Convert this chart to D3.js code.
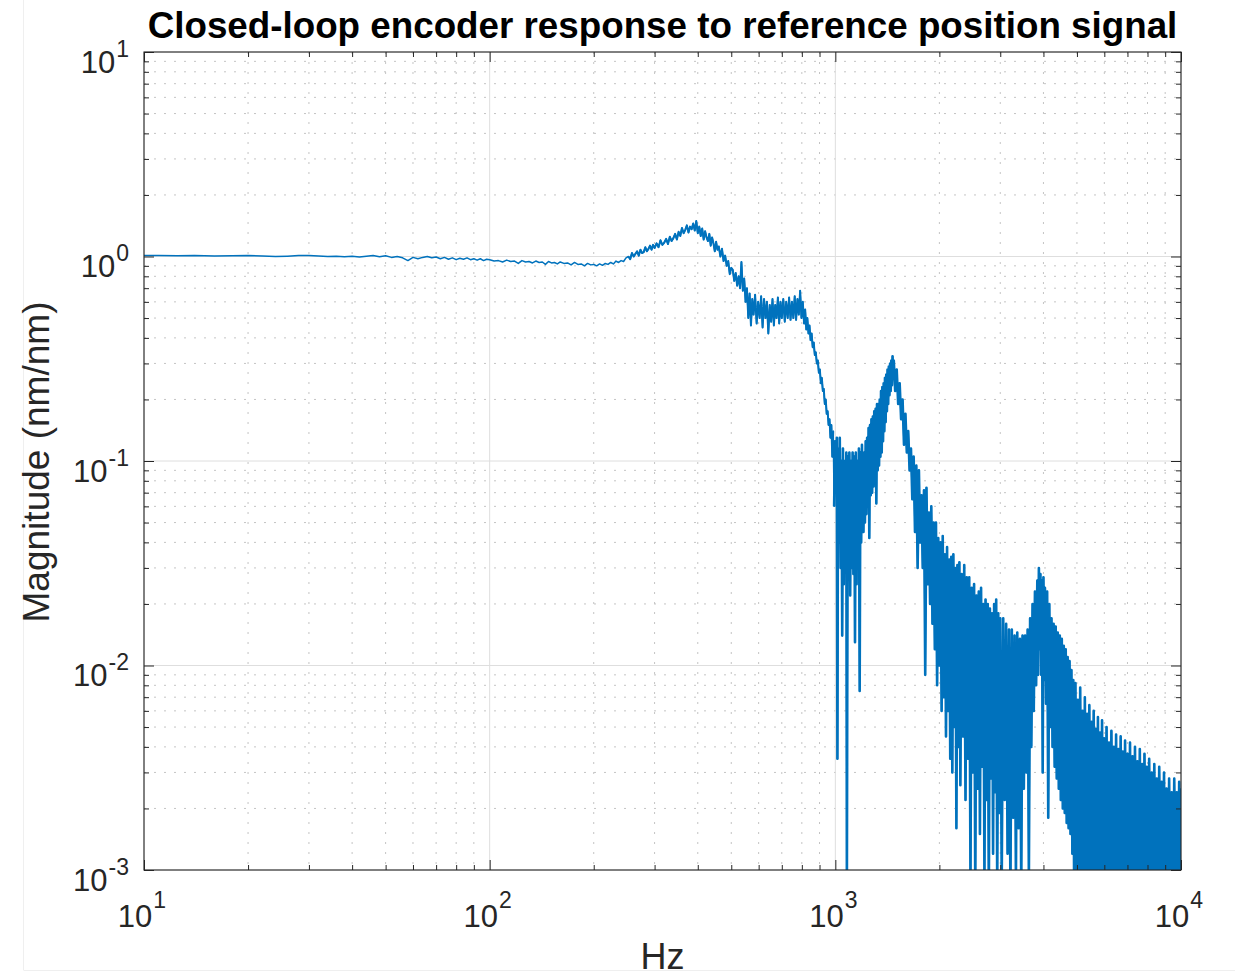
<!DOCTYPE html>
<html>
<head>
<meta charset="utf-8">
<script src="https://cdn.jsdelivr.net/npm/d3@7"></script>
<style>
  html, body { margin: 0; padding: 0; background: #fff; }
  svg { display: block; }
  text { font-family: "Liberation Sans", Arial, Helvetica, sans-serif; }
</style>
</head>
<body>
<svg id="chart"></svg>
<script>
// Closed-loop encoder response: [Hz, magnitude nm/nm]
const flatBand = [
  [10,1.01],[11,1.012],[12.5,1.008],[14,1.01],[16,1.006],[18,1.008],[20,1.01],[22,1.005],[24,1.0],
  [26,1.004],[28,1.01],[30,1.012],[32,1.006],[34,1.0],[36,1.004],[38,0.998],[40,1.003],[42,0.994],
  [44,1.004],[46,1.012],[48,0.998],[50,1.008],[52,0.99],[54,1.0],[56,0.985],[58,0.955],[60,0.99],
  [62,0.975],[64,0.99],[66,1.0],[68,0.985],[70,0.995],[72,0.975],[74,0.99],[76,0.97],[78,0.985],
  [80,0.965],[82,0.98],[84,0.97],[86,0.985],[88,0.965],[90,0.975],[92,0.96],[94,0.975],[96,0.955],[98,0.97]
];
const lowRipple = [
  [100,0.965],[103,0.95],[106,0.955],[109,0.94],[112,0.96],[115,0.945],[118,0.95],[121,0.925],[124,0.955],
  [127,0.94],[130,0.945],[133,0.93],[136,0.95],[139,0.935],[142,0.94],[145,0.915],[148,0.945],[151,0.93],
  [154,0.935],[157,0.92],[160,0.94],[164,0.925],[168,0.93],[172,0.91],[176,0.935],[180,0.915],[184,0.92],
  [188,0.9],[192,0.925],[196,0.91],[200,0.915],[204,0.9],[208,0.92],[212,0.905],[216,0.925],[220,0.915],
  [224,0.935],[228,0.92],[232,0.95],[236,0.935],[240,0.955],[244,0.945],[248,0.985]
];
const firstResonance = [
  [252,1.0],[255,0.97],[258,1.04],[261,1.0],[264,1.03],[267,1.06],[270,1.01],[273,1.08],[276,1.04],
  [279,1.05],[282,1.11],[285,1.06],[288,1.09],[291,1.13],[294,1.08],[297,1.14],[300,1.1],[304,1.16],
  [308,1.11],[312,1.2],[316,1.14],[320,1.17],[324,1.22],[328,1.15],[332,1.25],[336,1.19],[340,1.23],
  [344,1.29],[348,1.21],[352,1.32],[356,1.26],[360,1.38],[364,1.3],[368,1.35],[372,1.42],[376,1.31],
  [380,1.4],[384,1.36],[388,1.45],[392,1.34],[396,1.49],[400,1.3],[404,1.4],[408,1.26],[412,1.37],
  [416,1.21],[420,1.33],[424,1.24],[428,1.19],[432,1.29],[436,1.13],[440,1.24],[444,1.16],[448,1.06],
  [452,1.18],[456,1.08],[460,1.12],[465,1.0],[470,1.09],[475,0.95],[480,1.01],[485,0.9],[490,0.95],
  [495,0.82],[500,0.88]
];
const midPlateau = [
  [505,0.86],[510,0.76],[515,0.83],[520,0.72],[525,0.8],[530,0.7],[535,0.94],[540,0.68],[545,0.78],
  [550,0.6],[555,0.7],[560,0.5],[565,0.66],[570,0.46],[575,0.62],[580,0.52],[586,0.65],[592,0.47],
  [598,0.6],[604,0.5],[610,0.64],[616,0.45],[622,0.62],[628,0.5],[634,0.6],[640,0.42],[646,0.58],
  [652,0.48],[658,0.62],[664,0.46],[670,0.58],[676,0.5],[682,0.63],[688,0.47],[694,0.6],[700,0.5],
  [707,0.62],[714,0.48],[721,0.6],[728,0.5],[735,0.63],[742,0.49],[749,0.6],[756,0.5],[763,0.64],
  [770,0.49],[777,0.62],[784,0.52],[791,0.68],[798,0.5],[805,0.6],[812,0.47],[818,0.55],[824,0.44],
  [830,0.5],[836,0.42],[842,0.46],[848,0.39],[854,0.42],[860,0.36],[866,0.38],[872,0.33],[878,0.34],
  [884,0.3],[890,0.31],[896,0.27],[902,0.28],[908,0.24],[914,0.255],[920,0.22],[926,0.225],[932,0.19],
  [938,0.2],[944,0.17],[950,0.175],[956,0.15],[962,0.16],[968,0.13],[974,0.15],[980,0.105],[986,0.14]
];
const notchBand = [
  [992,0.06],[998,0.125],[1004,0.08],[1010,0.13],[1014,0.0035],[1018,0.115],[1024,0.04],[1030,0.13],
  [1036,0.03],[1042,0.1],[1047,0.014],[1052,0.115],[1058,0.025],[1064,0.1],[1070,0.035],[1076,0.11],
  [1080,0.0008],[1086,0.105],[1092,0.03],[1098,0.11],[1104,0.022],[1110,0.1],[1116,0.03],[1122,0.11],
  [1128,0.028],[1134,0.105],[1140,0.013],[1146,0.11],[1152,0.025],[1158,0.1],[1164,0.03],[1170,0.115],
  [1176,0.0075],[1182,0.11],[1188,0.04],[1194,0.12],[1200,0.045]
];
const secondResonance = [
  [1206,0.045],[1212,0.11],[1218,0.05],[1224,0.125],[1230,0.055],[1236,0.13],[1242,0.06],[1248,0.145],
  [1254,0.042],[1260,0.15],[1266,0.068],[1272,0.16],[1278,0.07],[1284,0.165],[1290,0.075],[1296,0.175],
  [1302,0.08],[1308,0.18],[1314,0.062],[1320,0.19],[1326,0.09],[1332,0.19],[1338,0.095],[1344,0.2],
  [1350,0.105],[1356,0.22],[1362,0.11],[1368,0.23],[1374,0.125],[1380,0.24],[1386,0.14],[1392,0.255],
  [1398,0.155],[1404,0.265],[1410,0.175],[1416,0.28],[1422,0.19],[1428,0.29],[1434,0.21],[1440,0.3],
  [1446,0.22],[1452,0.31],[1458,0.235],[1464,0.325],[1470,0.26]
];
const highDecay = [
  [1476,0.31],[1490,0.22],[1505,0.28],[1520,0.19],[1535,0.24],[1550,0.16],[1565,0.2],[1580,0.12],
  [1595,0.17],[1610,0.11],[1625,0.14],[1640,0.09],[1655,0.115],[1670,0.065],[1685,0.105],[1700,0.045],
  [1715,0.095],[1730,0.03],[1745,0.09],[1760,0.04],[1775,0.068],[1790,0.03],[1805,0.072],[1820,0.009],
  [1835,0.074],[1850,0.025],[1865,0.056],[1880,0.02],[1895,0.06],[1910,0.016],[1925,0.05],[1940,0.012],
  [1955,0.05],[1970,0.008],[1985,0.042],[2000,0.01],[2015,0.04],[2030,0.006],[2045,0.043],[2060,0.007],
  [2075,0.035],[2090,0.0045],[2105,0.038],[2120,0.006],[2135,0.033],[2150,0.0035],[2165,0.034],[2180,0.003],
  [2195,0.035],[2210,0.005],[2225,0.03],[2240,0.0016],[2255,0.031],[2270,0.004],[2285,0.032],[2300,0.0026],
  [2320,0.028],[2340,0.0045],[2360,0.031],[2380,0.0022],[2400,0.027],[2420,0.0035],[2440,0.027],[2460,0.0009],
  [2480,0.024],[2500,0.003],[2520,0.025],[2540,0.0008],[2560,0.022],[2580,0.0025],[2600,0.023],[2620,0.0015],
  [2640,0.024],[2660,0.0032],[2680,0.02],[2700,0.0009],[2720,0.021],[2740,0.0022],[2760,0.02],[2780,0.0007],
  [2800,0.019],[2820,0.0028],[2840,0.018],[2860,0.0012],[2880,0.02],[2900,0.0024],[2920,0.021],[2940,0.0008],
  [2960,0.018],[2980,0.0019],[3000,0.017],[3030,0.0009],[3060,0.017],[3090,0.0022],[3120,0.016],[3150,0.0012],
  [3180,0.015],[3210,0.0008],[3240,0.015],[3270,0.0018],[3300,0.014],[3330,0.0009],[3360,0.0145],[3390,0.0016],
  [3420,0.0135],[3450,0.0008],[3480,0.014],[3510,0.0025],[3540,0.014],[3570,0.003],[3600,0.015],[3630,0.0009],
  [3660,0.017],[3690,0.004],[3720,0.02],[3750,0.006],[3780,0.023],[3810,0.008],[3840,0.026],[3860,0.009],
  [3880,0.03],[3900,0.012],[3920,0.028],[3940,0.009],[3960,0.026],[3980,0.003],[4000,0.027],[4020,0.0085],
  [4040,0.024],[4070,0.0065],[4100,0.023],[4130,0.0018],[4160,0.02],[4190,0.005],[4220,0.017],[4250,0.004],
  [4280,0.016],[4310,0.0032],[4340,0.0155],[4370,0.0028],[4400,0.0145],[4430,0.0025],[4460,0.014],[4490,0.0022],
  [4520,0.0135],[4550,0.002],[4580,0.0125],[4610,0.0019],[4640,0.012],[4670,0.0017],[4700,0.011],[4730,0.0016],
  [4760,0.0105],[4790,0.0015],[4820,0.0095],[4850,0.0012],[4880,0.0085]
];
const tailNoise = [
  [4910,0.0006],[4950,0.0082],[4990,0.0008],[5030,0.0068],[5070,0.0005],[5110,0.0078],[5150,0.0007],[5190,0.006],
  [5230,0.0006],[5270,0.007],[5310,0.0009],[5350,0.0058],[5390,0.0005],[5430,0.0064],[5470,0.0007],[5510,0.0053],
  [5550,0.0006],[5590,0.006],[5630,0.0008],[5670,0.0049],[5710,0.0005],[5750,0.0056],[5790,0.0007],[5830,0.0047],
  [5870,0.0006],[5910,0.0054],[5950,0.0009],[5990,0.0044],[6040,0.0005],[6090,0.005],[6140,0.0007],[6190,0.0042],
  [6240,0.0006],[6290,0.0048],[6340,0.0008],[6390,0.004],[6440,0.0005],[6490,0.0046],[6540,0.0007],[6590,0.0039],
  [6640,0.0006],[6690,0.0045],[6740,0.0009],[6790,0.0038],[6840,0.0005],[6890,0.0043],[6940,0.0007],[7000,0.0037],
  [7060,0.0006],[7120,0.0042],[7180,0.0008],[7240,0.0036],[7300,0.0005],[7360,0.004],[7420,0.0007],[7480,0.0034],
  [7540,0.0006],[7600,0.0039],[7660,0.0009],[7720,0.0033],[7780,0.0005],[7840,0.0037],[7900,0.0007],[7960,0.0032],
  [8020,0.0006],[8090,0.0035],[8160,0.0008],[8230,0.003],[8300,0.0005],[8370,0.0033],[8440,0.0007],[8510,0.0028],
  [8580,0.0006],[8650,0.0032],[8720,0.0009],[8790,0.0027],[8860,0.0005],[8930,0.003],[9000,0.0007],[9080,0.0025],
  [9160,0.0006],[9240,0.0028],[9320,0.0008],[9400,0.0024],[9480,0.0005],[9560,0.0028],[9640,0.0007],[9720,0.0024],
  [9800,0.0006],[9880,0.0027],[9960,0.0008],[10000,0.0025]
];

const xDomain = [10, 10000];
const yDomain = [0.001, 10];
const xMajorTicks = [10, 100, 1000, 10000];
const yMajorTicks = [0.001, 0.01, 0.1, 1, 10];
const xTickExponents = ["1", "2", "3", "4"];
const yTickExponents = ["-3", "-2", "-1", "0", "1"];

const titleText = "Closed-loop encoder response to reference position signal";
const xLabelText = "Hz";
const yLabelText = "Magnitude (nm/nm)";

const trace = [].concat(flatBand, lowRipple, firstResonance, midPlateau,
  notchBand, secondResonance, highDecay, tailNoise);
// đoạn nhiễu vừa và nhiễu dày: vẽ lại nét đậm hơn để thành mảng kín như ảnh gốc
const noisyTrace = [].concat(firstResonance, midPlateau);
const denseTrace = [].concat(notchBand, secondResonance, highDecay, tailNoise);

const width = 1235, height = 976;
const plotLeft = 144, plotRight = 1181, plotTop = 52, plotBottom = 870;
const axisColor = "#262626";
const lineColor = "#0072BD";

const svg = d3.select("#chart").attr("width", width).attr("height", height);

// nền trắng + viền mờ của ảnh chụp
svg.append("rect").attr("width", width).attr("height", height).attr("fill", "#fff");
svg.append("line").attr("x1", 23.5).attr("x2", 23.5).attr("y1", 0).attr("y2", 970)
  .attr("stroke", "#efefef");
svg.append("line").attr("x1", 23.5).attr("x2", width).attr("y1", 970.5).attr("y2", 970.5)
  .attr("stroke", "#efefef");

const x = d3.scaleLog().domain(xDomain).range([plotLeft, plotRight]);
const y = d3.scaleLog().domain(yDomain).range([plotBottom, plotTop]);

const isMajor = v => Math.abs(Math.log10(v) - Math.round(Math.log10(v))) < 1e-9;
const xMinor = x.ticks().filter(v => !isMajor(v));
const yMinor = y.ticks().filter(v => !isMajor(v));

// lưới phụ (chấm)
const grid = svg.append("g");
grid.selectAll(".xm").data(xMinor).enter().append("line")
  .attr("x1", d => x(d)).attr("x2", d => x(d)).attr("y1", plotTop).attr("y2", plotBottom)
  .attr("stroke", "#c4c4c4").attr("stroke-width", 1).attr("stroke-dasharray", "2,8");
grid.selectAll(".ym").data(yMinor).enter().append("line")
  .attr("x1", plotLeft).attr("x2", plotRight).attr("y1", d => y(d)).attr("y2", d => y(d))
  .attr("stroke", "#c4c4c4").attr("stroke-width", 1).attr("stroke-dasharray", "2,8");
// lưới chính
grid.selectAll(".xM").data(xMajorTicks).enter().append("line")
  .attr("x1", d => x(d)).attr("x2", d => x(d)).attr("y1", plotTop).attr("y2", plotBottom)
  .attr("stroke", "#dedede").attr("stroke-width", 1);
grid.selectAll(".yM").data(yMajorTicks).enter().append("line")
  .attr("x1", plotLeft).attr("x2", plotRight).attr("y1", d => y(d)).attr("y2", d => y(d))
  .attr("stroke", "#dedede").attr("stroke-width", 1);

// đường dữ liệu
svg.append("clipPath").attr("id", "plotClip").append("rect")
  .attr("x", plotLeft).attr("y", plotTop)
  .attr("width", plotRight - plotLeft).attr("height", plotBottom - plotTop);

const line = d3.line().x(d => x(d[0])).y(d => y(d[1]));
const dataGroup = svg.append("g").attr("clip-path", "url(#plotClip)");
[[trace, 1.5], [noisyTrace, 2.0], [denseTrace, 2.6]].forEach(([pts, w]) => {
  dataGroup.append("path")
    .datum(pts)
    .attr("d", line)
    .attr("fill", "none")
    .attr("stroke", lineColor)
    .attr("stroke-width", w)
    .attr("stroke-linejoin", "round");
});

// trục: ticks hướng vào trong trên cả 4 cạnh
function addAxis(gen, tx, ty) {
  const g = svg.append("g").attr("transform", `translate(${tx},${ty})`).call(gen);
  g.select(".domain").remove();
  g.selectAll("line").attr("stroke", axisColor).attr("stroke-width", 1);
  return g;
}
addAxis(d3.axisBottom(x).tickValues(xMajorTicks).tickSize(-10).tickFormat(""), 0, plotBottom);
addAxis(d3.axisBottom(x).tickValues(xMinor).tickSize(-5).tickFormat(""), 0, plotBottom);
addAxis(d3.axisTop(x).tickValues(xMajorTicks).tickSize(-10).tickFormat(""), 0, plotTop);
addAxis(d3.axisTop(x).tickValues(xMinor).tickSize(-5).tickFormat(""), 0, plotTop);
addAxis(d3.axisLeft(y).tickValues(yMajorTicks).tickSize(-10).tickFormat(""), plotLeft, 0);
addAxis(d3.axisLeft(y).tickValues(yMinor).tickSize(-5).tickFormat(""), plotLeft, 0);
addAxis(d3.axisRight(y).tickValues(yMajorTicks).tickSize(-10).tickFormat(""), plotRight, 0);
addAxis(d3.axisRight(y).tickValues(yMinor).tickSize(-5).tickFormat(""), plotRight, 0);

svg.append("rect")
  .attr("x", plotLeft).attr("y", plotTop)
  .attr("width", plotRight - plotLeft).attr("height", plotBottom - plotTop)
  .attr("fill", "none").attr("stroke", axisColor).attr("stroke-width", 1.1);

// nhãn tick dạng 10^n
const xl = svg.append("g").attr("fill", axisColor);
xMajorTicks.forEach((v, i) => {
  const t = xl.append("text").attr("x", x(v) - 2).attr("y", plotBottom + 57)
    .attr("text-anchor", "middle").attr("font-size", 31);
  t.append("tspan").text("10");
  t.append("tspan").attr("font-size", 23).attr("dx", 1).attr("dy", -19).text(xTickExponents[i]);
});
const yl = svg.append("g").attr("fill", axisColor);
yMajorTicks.forEach((v, i) => {
  const t = yl.append("text").attr("x", 129).attr("y", y(v) + 20.5)
    .attr("text-anchor", "end").attr("font-size", 31);
  t.append("tspan").text("10");
  t.append("tspan").attr("font-size", 23).attr("dx", 1).attr("dy", -16).text(yTickExponents[i]);
});

// tiêu đề + nhãn trục
function fitText(sel, target) {
  const len = sel.node().getComputedTextLength();
  const fs = parseFloat(sel.attr("font-size"));
  sel.attr("font-size", fs * target / len);
}
const title = svg.append("text").attr("x", (plotLeft + plotRight) / 2).attr("y", 38)
  .attr("text-anchor", "middle").attr("font-weight", "bold").attr("font-size", 34)
  .attr("fill", "#000").text(titleText);
fitText(title, 1030);

svg.append("text").attr("x", (plotLeft + plotRight) / 2).attr("y", 969)
  .attr("text-anchor", "middle").attr("font-size", 36).attr("fill", axisColor)
  .text(xLabelText);

const ylab = svg.append("text")
  .attr("transform", "translate(49,462) rotate(-90)")
  .attr("text-anchor", "middle").attr("font-size", 37).attr("fill", axisColor)
  .text(yLabelText);
fitText(ylab, 321);
</script>
</body>
</html>
